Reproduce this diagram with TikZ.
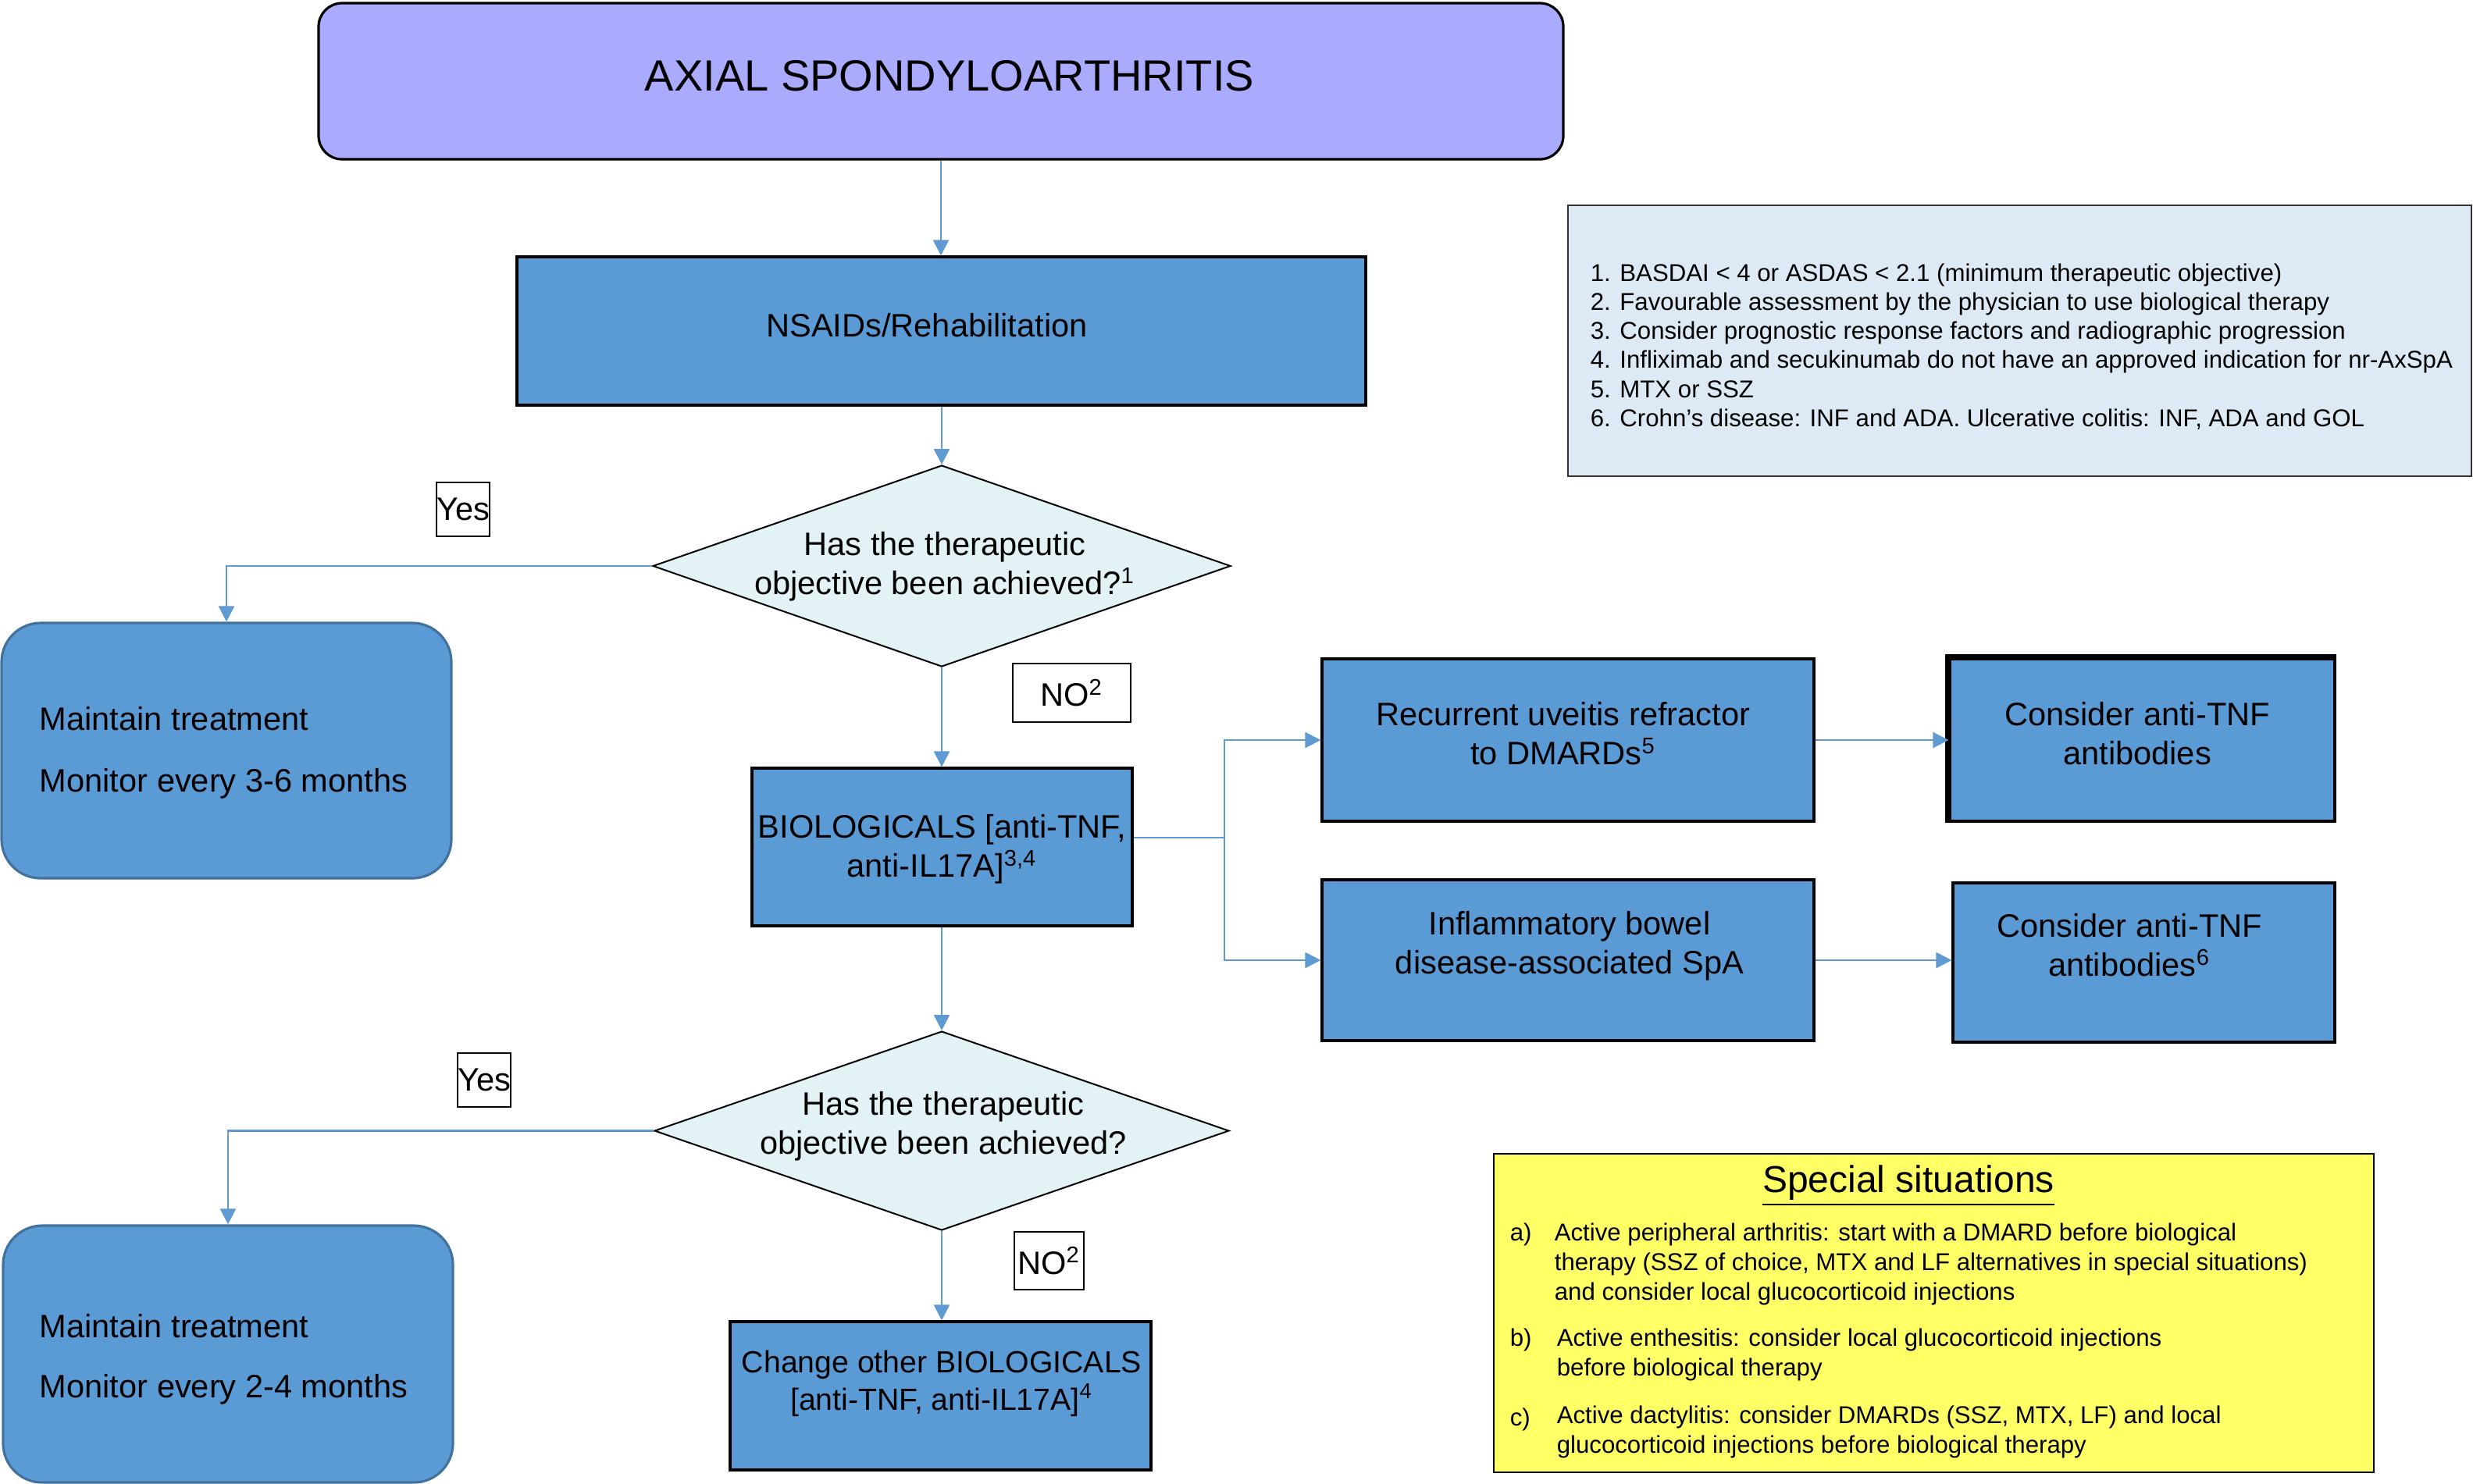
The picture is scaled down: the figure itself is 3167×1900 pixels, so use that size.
\documentclass[tikz,border=0pt]{standalone}
\usepackage{fontspec}
\setmainfont{Liberation Sans}
\usetikzlibrary{shapes.geometric,arrows.meta}
\definecolor{titlefill}{RGB}{170,170,255}
\definecolor{boxblue}{RGB}{91,155,213}
\definecolor{decfill}{RGB}{226,242,245}
\definecolor{arrowblue}{RGB}{95,155,210}
\definecolor{notefill}{RGB}{221,233,245}
\definecolor{specfill}{RGB}{255,255,102}
\definecolor{roundborder}{RGB}{65,113,156}
\newcommand\mf{\fontsize{10.4}{12.5}\selectfont}
\newcommand\ntf{\fontsize{7.8}{9.3}\selectfont}
\newcommand\spf{\fontsize{7.8}{9.5}\selectfont}
\begin{document}
\begin{tikzpicture}[x=0.25pt,y=-0.25pt,
  bluebox/.style={draw=black, line width=0.8pt, fill=boxblue, inner sep=0pt},
  roundbox/.style={draw=roundborder, line width=0.8pt, fill=boxblue, inner sep=0pt, rounded corners=12.5pt},
  decision/.style={diamond, draw=black, line width=0.5pt, fill=decfill, inner sep=0pt},
  conn/.style={draw=arrowblue, line width=0.6pt, -{Triangle[length=5pt,width=5pt]}},
  plainconn/.style={draw=arrowblue, line width=0.6pt},
  lab/.style={draw=black, line width=0.5pt, fill=white, inner sep=0pt, font=\mf},
  txt/.style={font=\mf, align=center, inner sep=0pt}]
\useasboundingbox (0,0) rectangle (3167,1900);

% title
\node[draw=black, line width=0.8pt, fill=titlefill, rounded corners=7.5pt,
      minimum width=398.5pt, minimum height=50pt, inner sep=0pt] (title) at (1205,104) {};
\node[font=\fontsize{14}{16}\selectfont, inner sep=0pt] (titlet) at (1216,97) {AXIAL SPONDYLOARTHRITIS};

% NSAIDs
\node[bluebox, minimum width=271.75pt, minimum height=47.5pt] (nsaid) at (1205.5,424) {};
\node[txt] (nsaidt) at (1187,417) {NSAIDs/Rehabilitation};

% decision 1
\node[decision, minimum width=185pt, minimum height=64.5pt] (d1) at (1206,725) {};
\node[txt] (d1t) at (1210,726) {Has the therapeutic\\objective been achieved?\textsuperscript{1}};

% yes 1 / maintain 1
\node[lab, minimum width=16.5pt, minimum height=17.25pt] (yes1) at (593,652.5) {Yes};
\node[roundbox, minimum width=144pt, minimum height=81.75pt] (m1) at (290,961.5) {};
\node[txt, anchor=west] (m1a) at (50,921) {Maintain treatment};
\node[txt, anchor=west] (m1b) at (50,1004) {Monitor every 3-6 months};

% no 1
\node[lab, minimum width=37.75pt, minimum height=18.75pt] (no1) at (1372.5,887.5) {NO\textsuperscript{2}};

% biologicals
\node[bluebox, minimum width=121.75pt, minimum height=50.5pt] (bio) at (1206.5,1085) {};
\node[txt] (biot) at (1206.5,1088) {BIOLOGICALS [anti-TNF,\\anti-IL17A]\textsuperscript{3,4}};

% right branch
\node[bluebox, minimum width=157.5pt, minimum height=52pt] (rec) at (2008,948) {};
\node[txt] (rect) at (2002,940) {Recurrent uveitis refractor\\to DMARDs\textsuperscript{5}};
\node[bluebox, minimum width=157.5pt, minimum height=51.5pt] (ibd) at (2008,1230) {};
\node[txt] (ibdt) at (2010,1212) {Inflammatory bowel\\disease-associated SpA};
\node[bluebox, minimum width=123.25pt, minimum height=52pt] (con1) at (2743.5,948) {};
\draw[line width=2pt] (con1.south west) -- (con1.north west) -- (con1.north east);
\node[txt] (con1t) at (2737,940) {Consider anti-TNF\\antibodies};
\node[bluebox, minimum width=122.25pt, minimum height=51pt] (con2) at (2745.5,1233) {};
\node[txt] (con2t) at (2727,1211) {Consider anti-TNF\\antibodies\textsuperscript{6}};

% decision 2
\node[decision, minimum width=184pt, minimum height=63.75pt] (d2) at (1206,1448.5) {};
\node[txt] (d2t) at (1208,1443) {Has the therapeutic\\objective been achieved?};

\node[lab, minimum width=17pt, minimum height=17.25pt] (yes2) at (620,1383.5) {Yes};
\node[roundbox, minimum width=144pt, minimum height=82.25pt] (m2) at (292,1734.5) {};
\node[txt, anchor=west] (m2a) at (50,1699) {Maintain treatment};
\node[txt, anchor=west] (m2b) at (50,1780) {Monitor every 2-4 months};

\node[lab, minimum width=22.25pt, minimum height=18.5pt] (no2) at (1343.5,1615) {NO\textsuperscript{2}};

\node[bluebox, minimum width=134.75pt, minimum height=47.5pt] (chg) at (1204.5,1788) {};
\node[txt, font=\fontsize{9.8}{12}\selectfont] (chgt) at (1206,1772) {Change other BIOLOGICALS\\{[anti-TNF, anti-IL17A]}\textsuperscript{4}};

% notes
\node[draw=black!80, line width=0.6pt, fill=notefill, minimum width=289.25pt, minimum height=86.75pt, inner sep=0pt] (notes) at (2586.5,436.5) {};
\node[anchor=west, align=left, font=\ntf, inner sep=0pt] (notest) at (2036,444) {%
1. BASDAI < 4 or ASDAS < 2.1 (minimum therapeutic objective)\\
2. Favourable assessment by the physician to use biological therapy\\
3. Consider prognostic response factors and radiographic progression\\
4. Infliximab and secukinumab do not have an approved indication for nr-AxSpA\\
5. MTX or SSZ\\
6. Crohn’s disease: INF and ADA. Ulcerative colitis: INF, ADA and GOL};

% special situations
\node[draw=black, line width=0.6pt, fill=specfill, minimum width=281.75pt, minimum height=102pt, inner sep=0pt] (spec) at (2476.5,1682) {};
\node[font=\fontsize{12}{14}\selectfont, inner sep=0pt] (spect) at (2444,1519) {\underline{Special situations}};
\node[anchor=west, font=\spf, inner sep=0pt] (sa) at (1933,1581) {a)};
\node[anchor=west, align=left, font=\spf, inner sep=0pt] (sat) at (1990,1619) {Active peripheral arthritis: start with a DMARD before biological\\therapy (SSZ of choice, MTX and LF alternatives in special situations)\\and consider local glucocorticoid injections};
\node[anchor=west, font=\spf, inner sep=0pt] (sb) at (1933,1716) {b)};
\node[anchor=west, align=left, font=\spf, inner sep=0pt] (sbt) at (1993,1735) {Active enthesitis: consider local glucocorticoid injections\\before biological therapy};
\node[anchor=west, font=\spf, inner sep=0pt] (sc) at (1933,1818) {c)};
\node[anchor=west, align=left, font=\spf, inner sep=0pt] (sct) at (1993,1834) {Active dactylitis: consider DMARDs (SSZ, MTX, LF) and local\\glucocorticoid injections before biological therapy};

% connectors
\coordinate (jx) at (1568,1073);
\draw[conn] (title.south) -- (title.south |- nsaid.north);
\draw[conn] (nsaid.south -| d1.north) -- (d1.north);
\draw[conn] (d1.west) -| (m1.north);
\draw[conn] (d1.south) -- (d1.south |- bio.north);
\draw[plainconn] (bio.east |- jx) -- (jx);
\draw[conn] (jx) |- (rec.west);
\draw[conn] (jx) |- (ibd.west);
\draw[conn] (rec.east) -- (rec.east -| con1.west);
\draw[conn] (ibd.east) -- (ibd.east -| con2.west);
\draw[conn] (bio.south -| d2.north) -- (d2.north);
\draw[conn] (d2.west) -| (m2.north);
\draw[conn] (d2.south) -- (d2.south |- chg.north);
\end{tikzpicture}
\end{document}
